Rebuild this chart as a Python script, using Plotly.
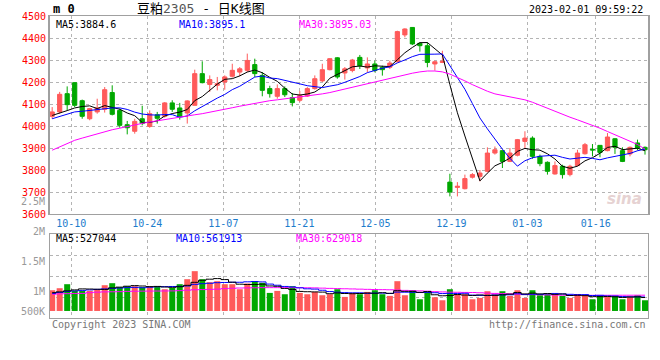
import plotly.graph_objects as go

# ---------------- data ----------------
dates = ["09-28", "09-29", "09-30",
         "10-10", "10-11", "10-12", "10-13", "10-14", "10-17", "10-18", "10-19", "10-20", "10-21",
         "10-24", "10-25", "10-26", "10-27", "10-28", "10-31",
         "11-01", "11-02", "11-03", "11-04", "11-07", "11-08", "11-09", "11-10", "11-11",
         "11-14", "11-15", "11-16", "11-17", "11-18", "11-21", "11-22", "11-23", "11-24", "11-25",
         "11-28", "11-29", "11-30",
         "12-01", "12-02", "12-05", "12-06", "12-07", "12-08", "12-09", "12-12", "12-13", "12-14",
         "12-15", "12-16", "12-19", "12-20", "12-21", "12-22", "12-23", "12-26", "12-27", "12-28",
         "12-29", "12-30",
         "01-03", "01-04", "01-05", "01-06", "01-09", "01-10", "01-11", "01-12", "01-13",
         "01-16", "01-17", "01-18", "01-19", "01-20", "01-30", "01-31", "02-01"]

opens = [4044, 4064, 4147, 4197, 4115, 4033, 4064, 4076, 4152, 4071,
         4006, 3976, 4033, 3998, 4051, 4044, 4105, 4082, 4059, 4094,
         4238, 4189, 4185, 4200, 4226, 4245, 4253, 4279, 4230, 4170,
         4135, 4170, 4129, 4117, 4136, 4170, 4205, 4256, 4310, 4241,
         4252, 4312, 4264, 4282, 4267, 4267, 4292, 4414, 4448, 4376,
         4365, 4282, 4289, 3745, 3721, 3715, 3767, 3771, 3794, 3877,
         3888, 3839, 3867, 3930, 3945, 3862, 3835, 3782, 3817, 3779,
         3820, 3874, 3894, 3912, 3888, 3942, 3888, 3873, 3923, 3903]
highs = [4086, 4155, 4180, 4197, 4120, 4082, 4124, 4177, 4185, 4079,
         4023, 4033, 4092, 4071, 4064, 4109, 4117, 4105, 4117, 4256,
         4294, 4230, 4223, 4230, 4283, 4268, 4329, 4306, 4245, 4183,
         4189, 4180, 4150, 4159, 4177, 4230, 4283, 4308, 4313, 4268,
         4305, 4323, 4312, 4297, 4274, 4297, 4433, 4444, 4450, 4380,
         4380, 4297, 4342, 3783, 3745, 3779, 3786, 3800, 3903, 3907,
         3888, 3900, 3941, 3976, 3953, 3870, 3839, 3839, 3824, 3824,
         3892, 3923, 3918, 3912, 3968, 3945, 3903, 3907, 3938, 3907]
lows = [4033, 4056, 4071, 4086, 4033, 4026, 4056, 4061, 4048, 3992,
        3962, 3965, 4003, 3992, 4011, 4038, 4064, 4029, 4011, 4094,
        4194, 4155, 4162, 4165, 4220, 4226, 4245, 4223, 4135, 4129,
        4124, 4132, 4089, 4109, 4132, 4165, 4200, 4253, 4215, 4211,
        4244, 4259, 4244, 4244, 4229, 4259, 4289, 4403, 4368, 4338,
        4267, 4252, 4286, 3680, 3680, 3712, 3761, 3748, 3789, 3870,
        3809, 3836, 3862, 3900, 3851, 3817, 3779, 3779, 3761, 3771,
        3817, 3870, 3862, 3858, 3885, 3873, 3836, 3862, 3889, 3870]
closes = [4064, 4144, 4097, 4094, 4044, 4079, 4082, 4165, 4053, 4003,
          3992, 4021, 4011, 4056, 4035, 4105, 4076, 4044, 4114, 4238,
          4197, 4211, 4192, 4223, 4253, 4260, 4298, 4238, 4162, 4147,
          4170, 4142, 4106, 4139, 4170, 4215, 4256, 4306, 4223, 4260,
          4300, 4274, 4282, 4252, 4256, 4286, 4429, 4441, 4373, 4365,
          4289, 4292, 4294, 3700, 3726, 3761, 3779, 3786, 3877, 3892,
          3839, 3877, 3938, 3945, 3862, 3829, 3794, 3820, 3779, 3817,
          3877, 3915, 3891, 3880, 3950, 3903, 3839, 3903, 3900, 3892]

ma5 = [4048, 4058, 4070, 4082, 4088.6, 4091.6, 4079.2, 4092.8, 4084.6, 4076.4,
       4059.0, 4046.8, 4016.0, 4016.6, 4023.0, 4045.6, 4056.6, 4063.2, 4074.8, 4115.4,
       4133.8, 4160.8, 4190.4, 4212.2, 4215.2, 4227.8, 4245.2, 4254.4, 4242.2, 4221.0,
       4203.0, 4171.8, 4145.4, 4140.8, 4145.4, 4154.4, 4177.2, 4217.2, 4234.0, 4252.0,
       4269.0, 4272.6, 4267.8, 4273.6, 4272.8, 4270.0, 4301.0, 4332.8, 4357.0, 4378.8,
       4379.4, 4352.0, 4322.6, 4188.0, 4060.2, 3954.6, 3852.0, 3750.4, 3785.8, 3819.0,
       3834.6, 3854.2, 3884.6, 3898.2, 3892.2, 3890.2, 3873.6, 3850.0, 3816.8, 3807.8,
       3817.4, 3841.6, 3855.8, 3876.0, 3902.6, 3907.8, 3892.6, 3895.0, 3899.0, 3887.4]
ma10 = [4033, 4044, 4053, 4064, 4067, 4071, 4074, 4079, 4082, 4082.5,
        4075.3, 4063.0, 4054.4, 4050.6, 4049.7, 4052.3, 4051.7, 4039.6, 4045.7, 4069.2,
        4089.7, 4108.7, 4126.8, 4143.5, 4165.3, 4180.8, 4203.0, 4222.4, 4227.2, 4218.1,
        4215.4, 4208.5, 4199.9, 4191.5, 4183.2, 4178.7, 4174.5, 4181.3, 4187.4, 4198.7,
        4211.7, 4224.9, 4242.5, 4253.8, 4262.4, 4269.5, 4286.8, 4300.3, 4315.3, 4325.8,
        4324.7, 4326.5, 4327.7, 4272.5, 4219.5, 4167.0, 4102.0, 4036.5, 3986.9, 3939.6,
        3894.6, 3853.1, 3817.5, 3842.0, 3855.6, 3862.4, 3863.9, 3867.3, 3857.5, 3850.0,
        3853.8, 3857.6, 3852.9, 3846.4, 3855.2, 3862.6, 3867.1, 3875.4, 3887.5, 3895.0]
ma30 = [3890, 3905, 3920, 3935, 3945, 3955, 3965, 3975, 3983, 3990,
        3998, 4005, 4012, 4018, 4024, 4030, 4035, 4040, 4046, 4051,
        4056, 4062, 4068, 4076, 4083, 4090, 4097, 4104, 4110, 4115,
        4119, 4123, 4127, 4131, 4136, 4141, 4146, 4152, 4160, 4168,
        4177, 4186, 4194, 4203, 4211, 4219, 4226, 4233, 4240, 4246,
        4250, 4250, 4246, 4236, 4222, 4205, 4188, 4172, 4158, 4146,
        4140, 4134, 4127, 4119, 4108, 4094, 4080, 4067, 4054, 4040,
        4028, 4016, 4005, 3990, 3975, 3961, 3946, 3932, 3916, 3895]

volumes = [827000, 907000, 1067000, 800000, 800000, 800000, 867000, 1027000, 1107000, 947000,
           987000, 987000, 947000, 987000, 987000, 867000, 920000, 1067000, 1267000, 1587000,
           1267000, 1147000, 1187000, 1067000, 1067000, 867000, 1093000, 1187000, 1120000, 720000,
           800000, 667000, 987000, 720000, 667000, 760000, 627000, 667000, 867000, 560000,
           720000, 667000, 760000, 827000, 667000, 600000, 1187000, 627000, 827000, 467000,
           760000, 547000, 427000, 867000, 667000, 667000, 467000, 520000, 787000, 667000,
           787000, 600000, 827000, 520000, 827000, 627000, 667000, 667000, 600000, 520000,
           667000, 600000, 467000, 600000, 560000, 600000, 467000, 560000, 627000, 427000]
vol_ma5 = [730, 760, 800, 840, 880, 875, 867, 859, 920, 950,
           987, 1011, 995, 971, 979, 955, 942, 966, 1022, 1142,
           1222, 1267, 1291, 1251, 1147, 1067, 1056, 1056, 1067, 997,
           984, 899, 859, 779, 768, 760, 752, 688, 718, 696,
           688, 696, 715, 707, 728, 704, 808, 782, 782, 742,
           774, 646, 606, 614, 654, 635, 619, 638, 622, 622,
           646, 672, 734, 680, 712, 680, 694, 662, 678, 616,
           624, 611, 571, 571, 579, 565, 539, 557, 563, 536]
vol_ma10 = [700, 740, 780, 800, 820, 840, 860, 880, 900, 915,
            931, 939, 927, 946, 964, 971, 976, 980, 996, 1060,
            1088, 1104, 1128, 1136, 1144, 1144, 1162, 1174, 1159, 1072,
            1026, 978, 958, 923, 883, 872, 826, 774, 748, 732,
            724, 724, 702, 712, 712, 696, 752, 748, 744, 735,
            739, 727, 694, 698, 698, 704, 632, 622, 618, 638,
            640, 646, 686, 651, 667, 663, 683, 698, 679, 664,
            652, 652, 616, 624, 598, 595, 575, 564, 567, 558]
vol_ma30 = [667, 680, 690, 695, 700, 730, 750, 760, 765, 770,
            780, 787, 790, 793, 795, 797, 800, 810, 830, 845,
            853, 860, 870, 890, 905, 915, 920, 925, 930, 930,
            930, 930, 930, 928, 925, 920, 910, 900, 893, 885,
            878, 870, 862, 855, 850, 845, 835, 820, 810, 800,
            790, 770, 760, 750, 745, 740, 735, 725, 710, 700,
            693, 685, 670, 660, 652, 645, 640, 635, 630, 628,
            626, 625, 624, 624, 626, 627, 628, 628, 629, 629]

tick_dates = ["10-10", "10-24", "11-07", "11-21", "12-05", "12-19", "01-03", "01-16"]
price_ticks = [3600, 3700, 3800, 3900, 4000, 4100, 4200, 4300, 4400, 4500]
vol_axis_labels = ["2.5M", "2M", "1.5M", "1M", "500K"]

title_name = "豆粕"
title_code = "2305"
title_rest = " - 日K线图"
timestamp = "2023-02-01 09:59:22"
price_legend = [("MA5:3884.6", "#000000"), ("MA10:3895.1", "#0000FF"), ("MA30:3895.03", "#FF00FF")]
vol_legend = [("MA5:527044", "#000000"), ("MA10:561913", "#0000FF"), ("MA30:629018", "#FF00FF")]

# ---------------- styling ----------------
W, H = 660, 360
ML, MR, MT, MB = 50, 10, 16, 42
PW, PH = W - ML - MR, H - MT - MB
MONO = "DejaVu Sans Mono, Liberation Mono, monospace"
RED, GREEN = "#FF5A5A", "#00A800"
GRID = "#B4B4B4"
FRAME = "#A0A0A0"


def px_x(x):
    return (x - ML) / PW


def px_y(y):
    return (H - MB - y) / PH


idx = list(range(len(dates)))
bar_colors = [RED if c >= o else GREEN for o, c in zip(opens, closes)]
tick_pos = [dates.index(d) * 1.013 - 0.49 for d in tick_dates]
vol_ma_scale = 1000

vol_range = [-280000, 3056000]
vol_grid = [vol_range[0] + k * (vol_range[1] - vol_range[0]) / 4 for k in (1, 2, 3)]

fig = go.Figure()

fig.add_trace(go.Candlestick(
    x=idx, open=opens, high=highs, low=lows, close=closes,
    increasing=dict(line=dict(color=RED, width=1), fillcolor=RED),
    decreasing=dict(line=dict(color=GREEN, width=1), fillcolor=GREEN),
    whiskerwidth=0, showlegend=False, xaxis="x", yaxis="y"))

for series, color in ((ma5, "#000000"), (ma10, "#0000FF"), (ma30, "#FF00FF")):
    fig.add_trace(go.Scatter(x=idx, y=series, mode="lines",
                             line=dict(color=color, width=1),
                             showlegend=False, xaxis="x", yaxis="y"))

fig.add_trace(go.Bar(x=idx, y=volumes, marker=dict(color=bar_colors, line=dict(width=0)),
                     showlegend=False, xaxis="x2", yaxis="y2"))

for series, color in ((vol_ma30, "#FF00FF"), (vol_ma10, "#0000FF"), (vol_ma5, "#000000")):
    fig.add_trace(go.Scatter(x=idx, y=[v * vol_ma_scale for v in series], mode="lines",
                             line=dict(color=color, width=1, shape="hvh"),
                             showlegend=False, xaxis="x2", yaxis="y2"))

xr = [-0.29, 79.4]
cand_dom = [px_y(214), 1.0]
vol_dom = [0.0, px_y(234.3)]

common_x = dict(range=xr, tickmode="array", tickvals=tick_pos, showgrid=True,
                gridcolor=GRID, griddash="dot", gridwidth=1, zeroline=False,
                showline=True, mirror=True, linecolor=FRAME, linewidth=1,
                ticks="", fixedrange=True)

annotations = []
# header
annotations.append(dict(x=px_x(51), y=px_y(9), xref="paper", yref="paper", xanchor="left",
                        yanchor="middle", showarrow=False, text="<b>m 0</b>",
                        font=dict(family=MONO, size=12, color="#000000")))
annotations.append(dict(x=px_x(202), y=px_y(9), xref="paper", yref="paper", xanchor="center",
                        yanchor="middle", showarrow=False,
                        text=title_name + '<span style="color:#555555">' + title_code + "</span>" + title_rest,
                        font=dict(family="DejaVu Sans Mono, Noto Sans CJK SC", size=13, color="#000000")))
annotations.append(dict(x=px_x(647), y=px_y(10), xref="paper", yref="paper", xanchor="right",
                        yanchor="middle", showarrow=False, text=timestamp,
                        font=dict(family=MONO, size=10, color="#000000")))
# legends
for (txt, col), xl in zip(price_legend, (54, 177, 298)):
    annotations.append(dict(x=px_x(xl), y=px_y(24), xref="paper", yref="paper", xanchor="left",
                            yanchor="middle", showarrow=False, text=txt,
                            font=dict(family=MONO, size=10, color=col)))
for (txt, col), xl in zip(vol_legend, (54, 174, 295)):
    annotations.append(dict(x=px_x(xl), y=px_y(238), xref="paper", yref="paper", xanchor="left",
                            yanchor="middle", showarrow=False, text=txt,
                            font=dict(family=MONO, size=10, color=col)))
# volume axis labels (gray)
for txt, yl in zip(vol_axis_labels, (201, 231, 261, 291, 311)):
    annotations.append(dict(x=px_x(47), y=px_y(yl), xref="paper", yref="paper", xanchor="right",
                            yanchor="middle", showarrow=False, text=txt,
                            font=dict(family=MONO, size=10, color="#999999")))
# footer
annotations.append(dict(x=px_x(50), y=px_y(324), xref="paper", yref="paper", xanchor="left",
                        yanchor="middle", showarrow=False, text="Copyright 2023 SINA.COM",
                        font=dict(family=MONO, size=10, color="#777777")))
annotations.append(dict(x=px_x(650), y=px_y(324), xref="paper", yref="paper", xanchor="right",
                        yanchor="middle", showarrow=False, text="http://finance.sina.com.cn",
                        font=dict(family=MONO, size=10, color="#777777")))
# watermark
annotations.append(dict(x=px_x(626), y=px_y(199), xref="paper", yref="paper", xanchor="center",
                        yanchor="middle", showarrow=False, text="<b><i>sina</i></b>",
                        font=dict(family="DejaVu Sans", size=15, color="#E6D2D2")))

fig.update_layout(
    width=W, height=H,
    margin=dict(l=ML, r=MR, t=MT, b=MB),
    paper_bgcolor="#FFFFFF", plot_bgcolor="#FFFFFF",
    showlegend=False, boxgap=0.2, bargap=0.2,
    xaxis=dict(common_x, domain=[0, 1], anchor="y", showticklabels=True,
               ticktext=tick_dates, rangeslider=dict(visible=False),
               tickfont=dict(family=MONO, size=10, color="#1C7CCC")),
    xaxis2=dict(common_x, domain=[0, 1], anchor="y2", matches="x", showticklabels=False),
    yaxis=dict(domain=cand_dom, range=[3600, 4500], tickmode="array", tickvals=price_ticks,
               showgrid=True, gridcolor=GRID, griddash="dot", gridwidth=1, zeroline=False,
               showline=True, mirror=True, linecolor=FRAME, linewidth=2, ticks="",
               tickfont=dict(family=MONO, size=10, color="#FF0000"), fixedrange=True),
    yaxis2=dict(domain=vol_dom, range=vol_range, tickmode="array", tickvals=vol_grid,
                showticklabels=False, showgrid=True, gridcolor=GRID, griddash="dot", gridwidth=1,
                zeroline=False, showline=True, mirror=True, linecolor=FRAME, linewidth=1,
                ticks="", fixedrange=True),
    annotations=annotations,
    font=dict(family=MONO, size=10),
)

fig.write_html("out.html", config={"displayModeBar": False},
               post_script="document.body.style.margin='0px';")
